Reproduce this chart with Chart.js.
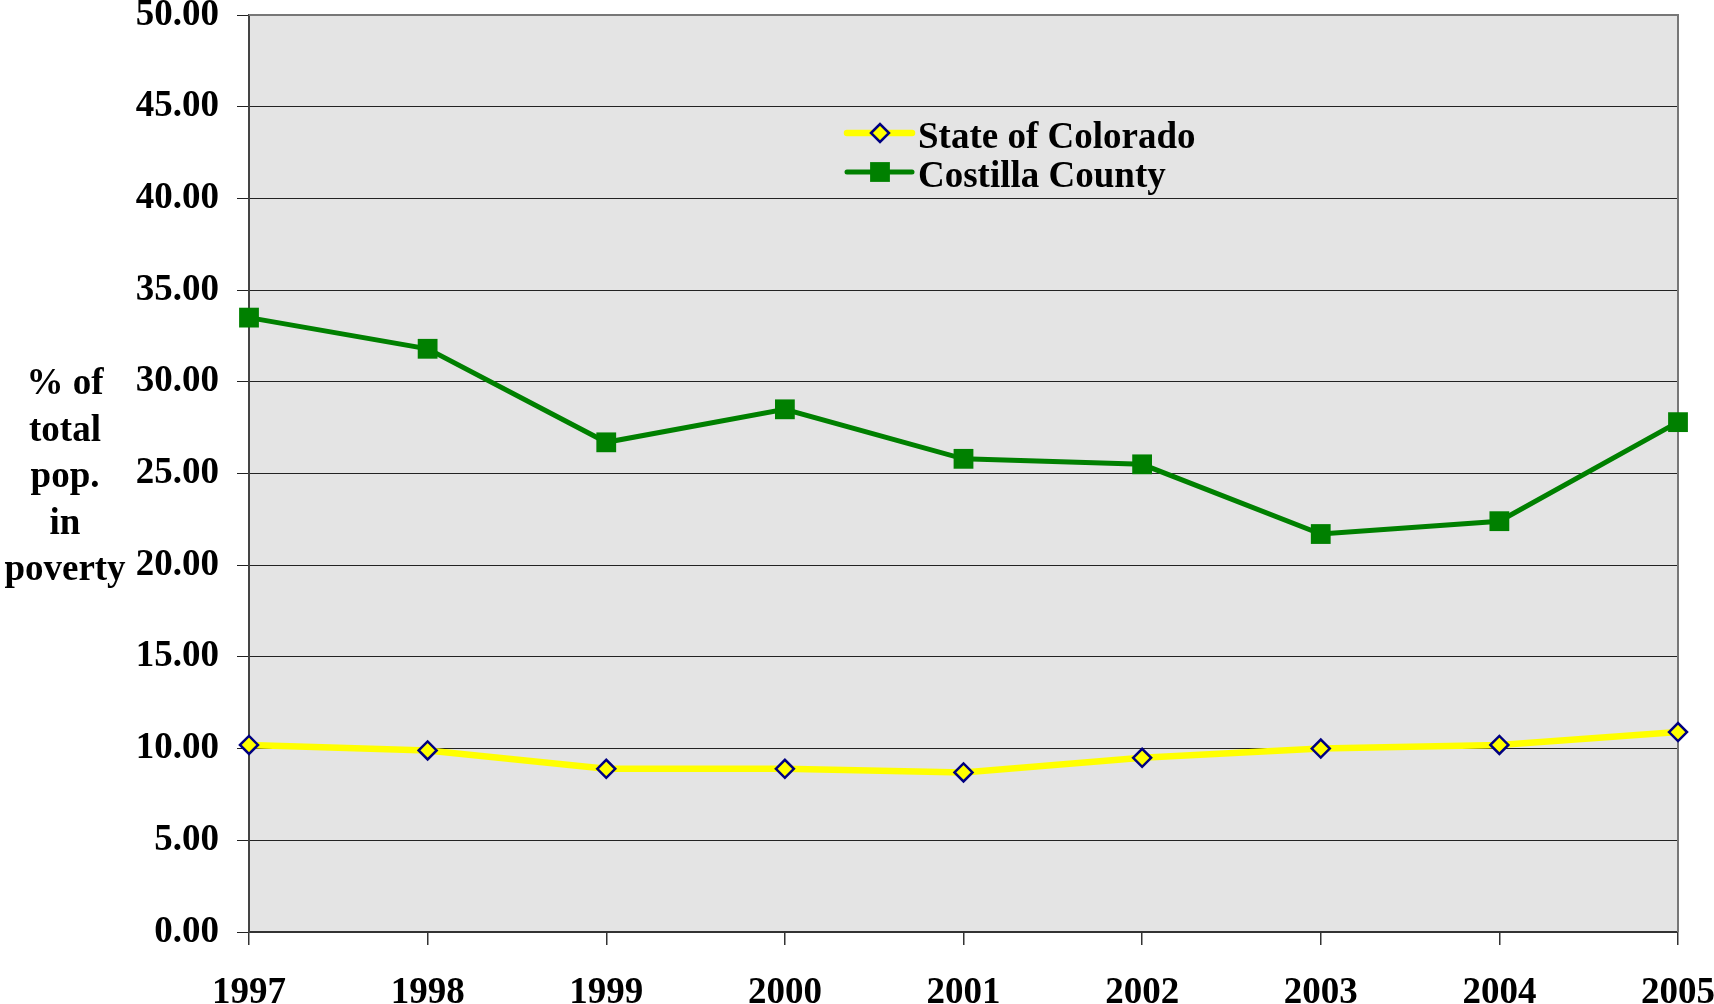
<!DOCTYPE html>
<html>
<head>
<meta charset="utf-8">
<script src="https://cdn.jsdelivr.net/npm/chart.js@4.4.1/dist/chart.umd.min.js"></script>
<style>
  html, body { margin: 0; padding: 0; background: #fff; }
  #wrap { width: 1714px; height: 1004px; position: relative; }
</style>
</head>
<body>
<div id="wrap"><canvas id="povertyChart"></canvas></div>
<script>
// data
const years = ['1997', '1998', '1999', '2000', '2001', '2002', '2003', '2004', '2005'];
const colorado = [10.2, 9.9, 8.9, 8.9, 8.7, 9.5, 10.0, 10.2, 10.9];
const costilla = [33.5, 31.8, 26.7, 28.5, 25.8, 25.5, 21.7, 22.4, 27.8];
const yMin = 0, yMax = 50, yStep = 5;
const yTitle = ['% of', 'total', 'pop.', 'in', 'poverty'];

const FONT = 'bold 37px "Liberation Serif", "Times New Roman", serif';

// gray plot fill, frame, horizontal y title and the legend box
const plotDecor = {
  id: 'plotDecor',
  beforeDraw(chart) {
    const { ctx, chartArea: a } = chart;
    ctx.save();
    ctx.fillStyle = '#e4e4e4';
    ctx.fillRect(a.left, a.top, a.right - a.left, a.bottom - a.top);
    ctx.restore();
  },
  beforeDatasetsDraw(chart) {
    const { ctx, chartArea: a } = chart;
    ctx.save();
    // top + right edge of the plot
    ctx.strokeStyle = '#777';
    ctx.lineWidth = 2;
    ctx.beginPath();
    ctx.moveTo(a.left, a.top);
    ctx.lineTo(a.right, a.top);
    ctx.lineTo(a.right, a.bottom);
    ctx.stroke();

    // y title, written flat in lines
    ctx.font = FONT;
    ctx.fillStyle = '#000';
    ctx.textAlign = 'center';
    ctx.textBaseline = 'middle';
    const mid = (a.top + a.bottom) / 2 + 4;
    yTitle.forEach((t, i) => {
      ctx.fillText(t, 65, mid + (i - 2) * 46.5);
    });
    ctx.restore();
  },
  afterDraw(chart) {
    const { ctx } = chart;
    const x0 = 847, x1 = 912, cx = 880, tx = 918;
    const rows = [133, 172];
    ctx.save();
    chart.data.datasets.forEach((ds, i) => {
      const y = rows[i];
      ctx.strokeStyle = ds.borderColor;
      ctx.lineWidth = ds.borderWidth;
      ctx.lineCap = 'round';
      ctx.beginPath();
      ctx.moveTo(x0, y);
      ctx.lineTo(x1, y);
      ctx.stroke();

      const r = ds.pointRadius;
      ctx.fillStyle = ds.pointBackgroundColor;
      ctx.strokeStyle = ds.pointBorderColor;
      ctx.lineWidth = ds.pointBorderWidth;
      ctx.beginPath();
      if (ds.pointStyle === 'rectRot') {
        ctx.moveTo(cx - r, y);
        ctx.lineTo(cx, y - r);
        ctx.lineTo(cx + r, y);
        ctx.lineTo(cx, y + r);
        ctx.closePath();
      } else {
        const s = Math.SQRT1_2 * r;
        ctx.rect(cx - s, y - s, 2 * s, 2 * s);
      }
      ctx.fill();
      if (ds.pointBorderWidth) ctx.stroke();

      ctx.font = FONT;
      ctx.fillStyle = '#000';
      ctx.textAlign = 'left';
      ctx.textBaseline = 'middle';
      ctx.fillText(ds.label, tx, y + 5);
    });
    ctx.restore();
  }
};

const tickFont = { family: '"Liberation Serif", "Times New Roman", serif', size: 37, weight: 'bold', lineHeight: 0.81 };

new Chart(document.getElementById('povertyChart').getContext('2d'), {
  type: 'line',
  data: {
    labels: years,
    datasets: [
      {
        label: 'State of Colorado',
        data: colorado,
        borderColor: '#ffff00',
        borderWidth: 6.5,
        tension: 0,
        pointStyle: 'rectRot',
        pointRadius: 9,
        pointHoverRadius: 9,
        pointBackgroundColor: '#ffff00',
        pointBorderColor: '#000080',
        pointBorderWidth: 2.5,
        clip: false
      },
      {
        label: 'Costilla County',
        data: costilla,
        borderColor: '#008000',
        borderWidth: 5,
        tension: 0,
        pointStyle: 'rect',
        pointRadius: 14,
        pointHoverRadius: 14,
        pointBackgroundColor: '#008000',
        pointBorderColor: '#008000',
        pointBorderWidth: 0,
        clip: false
      }
    ]
  },
  options: {
    responsive: true,
    maintainAspectRatio: false,
    animation: false,
    layout: { padding: 0 },
    plugins: {
      legend: { display: false },
      tooltip: { enabled: false }
    },
    scales: {
      x: {
        offset: false,
        afterFit(scale) {
          scale.height = 72;
          scale.paddingLeft = 36;
          scale.paddingRight = 36;
        },
        grid: { drawOnChartArea: false, drawTicks: true, tickLength: 13, color: '#333', lineWidth: 1.5 },
        border: { display: true, color: '#333', width: 2 },
        ticks: { color: '#000', font: tickFont, padding: 33, maxRotation: 0, autoSkip: false }
      },
      y: {
        min: yMin,
        max: yMax,
        afterFit(scale) {
          scale.width = 249;
          scale.paddingTop = 15;
          scale.paddingBottom = 15;
        },
        grid: { color: '#222', lineWidth: 1, tickLength: 12 },
        border: { display: true, color: '#444', width: 2 },
        ticks: {
          stepSize: yStep,
          color: '#000',
          font: tickFont,
          padding: 18,
          callback: v => Number(v).toFixed(2)
        }
      }
    }
  },
  plugins: [plotDecor]
});
</script>
</body>
</html>
